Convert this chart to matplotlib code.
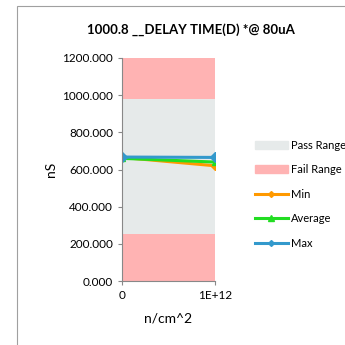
import matplotlib
matplotlib.use("Agg")
import matplotlib.pyplot as plt
from matplotlib.lines import Line2D
from matplotlib.patches import Patch, Rectangle

plt.rcParams['font.family'] = ['Lato', 'DejaVu Sans']

# data
x_labels = ['0', '1E+12']
fail_low = [255, 255]
pass_top = [980, 980]
fail_top = [1200, 1200]
min_vals = [665, 620]
avg_vals = [660, 640]
max_vals = [667, 665]

fig = plt.figure(figsize=(3.45, 3.45), dpi=100)
ax = fig.add_axes([122/345, 1-281/345, 93/345, 223/345])

# outer chart border
fig.patches.append(Rectangle((17/345, -0.1), 1, 1 - 6/345 + 0.1, transform=fig.transFigure,
                             fill=False, edgecolor='#a0a0a0', linewidth=0.8))

xs = [0, 1]
ax.fill_between(xs, 0, fail_low, color='#ffb3b3', linewidth=0)
ax.fill_between(xs, fail_low, pass_top, color='#e6eaea', linewidth=0)
ax.fill_between(xs, pass_top, fail_top, color='#ffb3b3', linewidth=0)

ax.plot(xs, min_vals, color='#ff9900', lw=2.2, marker='D', ms=4.5)
ax.plot(xs, avg_vals, color='#22dd22', lw=2.2, marker='^', ms=5)
ax.plot(xs, max_vals, color='#3399cc', lw=2.2, marker='D', ms=5)

ax.set_xlim(0, 1)
ax.set_ylim(0, 1200)
ax.set_yticks(range(0, 1201, 200))
ax.set_yticklabels([f'{v:.3f}' for v in range(0, 1201, 200)], fontsize=8.5)
ax.set_xticks(xs)
ax.set_xticklabels(x_labels, fontsize=8.5)
for s in ['top', 'right']:
    ax.spines[s].set_visible(False)
ax.spines['left'].set_color('#888888')
ax.spines['bottom'].set_color('#888888')
ax.tick_params(colors='#888888', labelcolor='black', length=3)
ax.set_ylabel('nS', fontsize=10, labelpad=4)
ax.set_xlabel('n/cm^2', fontsize=10, labelpad=8)
fig.text(191/345, 1-30/345, '1000.8 __DELAY TIME(D) *@ 80uA', ha='center', va='center',
         fontsize=9.5, fontweight='bold')

handles = [Patch(color='#e6eaea'), Patch(color='#ffb3b3'),
           Line2D([], [], color='#ff9900', lw=2.2, marker='D', ms=3),
           Line2D([], [], color='#22dd22', lw=2.2, marker='^', ms=4),
           Line2D([], [], color='#3399cc', lw=2.2, marker='D', ms=3)]
labels = ['Pass Range', 'Fail Range', 'Min', 'Average', 'Max']
fig.legend(handles, labels, loc='upper left', bbox_to_anchor=(249/345, 1-134/345),
           frameon=False, fontsize=8, handlelength=3, handletextpad=0.3,
           labelspacing=1.22, borderpad=0)

fig.savefig('out.png', dpi=100)
